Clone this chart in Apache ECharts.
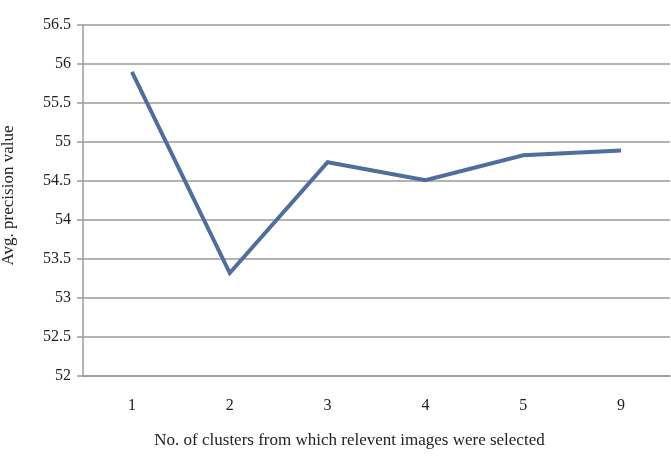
<!DOCTYPE html>
<html><head><meta charset="utf-8">
<script src="https://cdn.jsdelivr.net/npm/echarts@6/dist/echarts.min.js"></script>
<style>html,body{margin:0;padding:0;background:#fff}#c{width:671px;height:458px}</style>
</head><body><div id="c"></div>
<script>
const categories = ['1','2','3','4','5','9'];
const precision = [55.9, 53.32, 54.74, 54.51, 54.83, 54.89];
const yMin = 52, yMax = 56.5, yStep = 0.5;

const chart = echarts.init(document.getElementById('c'));
const font = '"Liberation Serif", "Times New Roman", serif';
chart.setOption({
  animation: false,
  grid: { left: 83, right: 1, top: 25, bottom: 82, containLabel: false, outerBoundsMode: 'none' },
  xAxis: {
    type: 'category', data: categories, boundaryGap: true,
    name: 'No. of clusters from which relevent images were selected',
    nameLocation: 'middle', nameGap: 56,
    nameTextStyle: { fontFamily: font, fontSize: 17, color: '#222', padding: [0, 54, 0, 0] },
    axisLine: { show: true, lineStyle: { color: '#9a9a9a', width: 1.5 } },
    axisTick: { show: false },
    axisLabel: { fontFamily: font, fontSize: 16, color: '#222', margin: 22 }
  },
  yAxis: {
    type: 'value', min: yMin, max: yMax, interval: yStep,
    name: 'Avg. precision value', nameLocation: 'middle', nameGap: 66,
    nameTextStyle: { fontFamily: font, fontSize: 17, color: '#222', padding: [0, 0, 0, 10] },
    axisLine: { show: true, lineStyle: { color: '#9a9a9a', width: 1.5 } },
    axisTick: { show: true, length: 6, lineStyle: { color: '#9a9a9a', width: 1.5 } },
    axisLabel: { fontFamily: font, fontSize: 16, color: '#222', margin: 12 },
    splitLine: { show: true, lineStyle: { color: '#9a9a9a', width: 1.5 } }
  },
  series: [{
    type: 'line', data: precision, symbol: 'none',
    lineStyle: { color: '#4f6e9b', width: 4, join: 'miter' }
  }]
});
</script></body></html>
